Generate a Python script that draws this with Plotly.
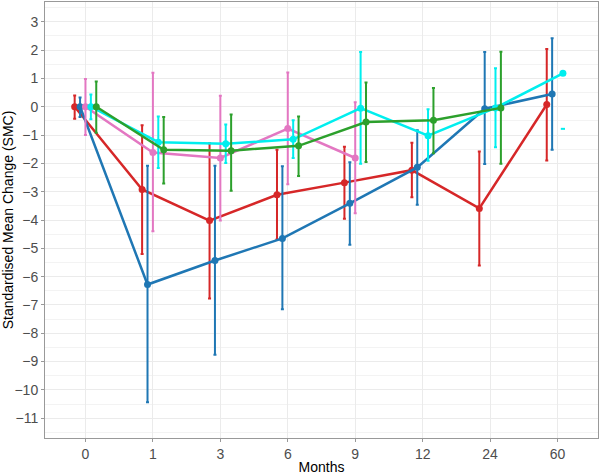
import plotly.graph_objects as go

months = ["0", "1", "3", "6", "9", "12", "24", "60"]

red_mean = [0.0, -2.92, -4.02, -3.11, -2.68, -2.24, -3.59, 0.08]
red_hi   = [0.40, -0.65, -1.29, -1.52, -1.41, -1.27, -1.58, 2.04]
red_lo   = [-0.42, -5.20, -6.77, -4.69, -3.96, -3.20, -5.61, -1.90]

blue_mean = [0.0, -6.28, -5.43, -4.65, -3.41, -2.14, -0.07, 0.45]
blue_hi   = [0.33, -2.08, -2.08, -2.10, -1.96, -0.83, 1.93, 2.42]
blue_lo   = [-0.36, -10.44, -8.76, -7.15, -4.87, -3.46, -2.02, -1.52]

pink_mean = [0.0, -1.62, -1.81, -0.77, -1.81, None, None, None]
pink_hi   = [0.98, 1.20, 0.39, 1.21, 0.16, None, None, None]
pink_lo   = [-1.00, -4.40, -4.02, -2.74, -3.76, None, None, None]

cyan_mean = [0.0, -1.25, -1.31, -1.15, -0.05, -1.02, -0.04, 1.18]
cyan_hi   = [0.43, -0.34, -0.63, -0.48, 1.93, -0.09, 1.36, None]
cyan_lo   = [-0.44, -2.16, -1.99, -1.81, -2.01, -1.91, -1.43, None]
cyan_extra_month = ["60"]
cyan_extra_val = [-0.78]

green_mean = [0.0, -1.52, -1.55, -1.38, -0.54, -0.48, -0.04, None]
green_hi   = [0.89, -0.36, -0.27, -0.34, 0.86, 0.66, 1.94, None]
green_lo   = [-0.92, -2.71, -2.97, -2.45, -1.95, -1.64, -2.01, None]

series = [
    ("red", "#d62728", -0.16, red_mean, red_hi, red_lo),
    ("blue", "#1f77b4", -0.08, blue_mean, blue_hi, blue_lo),
    ("pink", "#e377c2", 0.0, pink_mean, pink_hi, pink_lo),
    ("cyan", "#00eeee", 0.08, cyan_mean, cyan_hi, cyan_lo),
    ("green", "#2ca02c", 0.16, green_mean, green_hi, green_lo),
]

idx = {m: i for i, m in enumerate(months)}
fig = go.Figure()
for name, color, off, mean, hi, lo in series:
    xs, ys, up, dn = [], [], [], []
    for i, m in enumerate(months):
        xs.append(idx[m] + off)
        ys.append(mean[i])
        if mean[i] is None or hi[i] is None:
            up.append(None); dn.append(None)
        else:
            up.append(hi[i] - mean[i]); dn.append(mean[i] - lo[i])
    fig.add_trace(go.Scatter(
        x=xs, y=ys, mode="lines+markers", name=name,
        line=dict(color=color, width=2.5),
        marker=dict(color=color, size=7),
        error_y=dict(type="data", array=up, arrayminus=dn, symmetric=False,
                     color=color, thickness=2, width=1.5),
        connectgaps=False, showlegend=False,
    ))

fig.add_trace(go.Scatter(
    x=[idx[m] + 0.08 for m in cyan_extra_month], y=cyan_extra_val, mode="markers",
    marker=dict(symbol="line-ew", size=3, line=dict(color="#00eeee", width=2)),
    showlegend=False,
))

font = "Liberation Sans, Arial, sans-serif"
fig.update_layout(
    width=600, height=475,
    margin=dict(l=43, r=2, t=1, b=33),
    plot_bgcolor="white", paper_bgcolor="white",
    font=dict(family=font, size=14, color="#4d4d4d"),
    showlegend=False,
    xaxis=dict(
        range=[-0.6, 7.6], tickmode="array",
        tickvals=[idx[m] for m in months], ticktext=months,
        showgrid=True, gridcolor="#ebebeb", gridwidth=1,
        zeroline=False, showline=True, linecolor="#999999", linewidth=1, mirror=True,
        ticks="outside", ticklen=3, tickcolor="#999999",
        tickfont=dict(size=14, color="#4d4d4d"),
        title=dict(text="Months", font=dict(size=14, color="#000000"), standoff=2),
    ),
    yaxis=dict(
        range=[-11.7, 3.7], tickmode="linear", tick0=0, dtick=1,
        showgrid=True, gridcolor="#ebebeb", gridwidth=1,
        minor=dict(dtick=0.5, tick0=0.5, showgrid=True, gridcolor="#f3f3f3", gridwidth=0.6),
        zeroline=False, showline=True, linecolor="#999999", linewidth=1, mirror=True,
        ticks="outside", ticklen=3, tickcolor="#999999",
        tickfont=dict(size=14, color="#4d4d4d"),
        title=dict(text="Standardised Mean Change (SMC)", font=dict(size=14, color="#000000"), standoff=4),
    ),
)

fig.write_html("out.html")
